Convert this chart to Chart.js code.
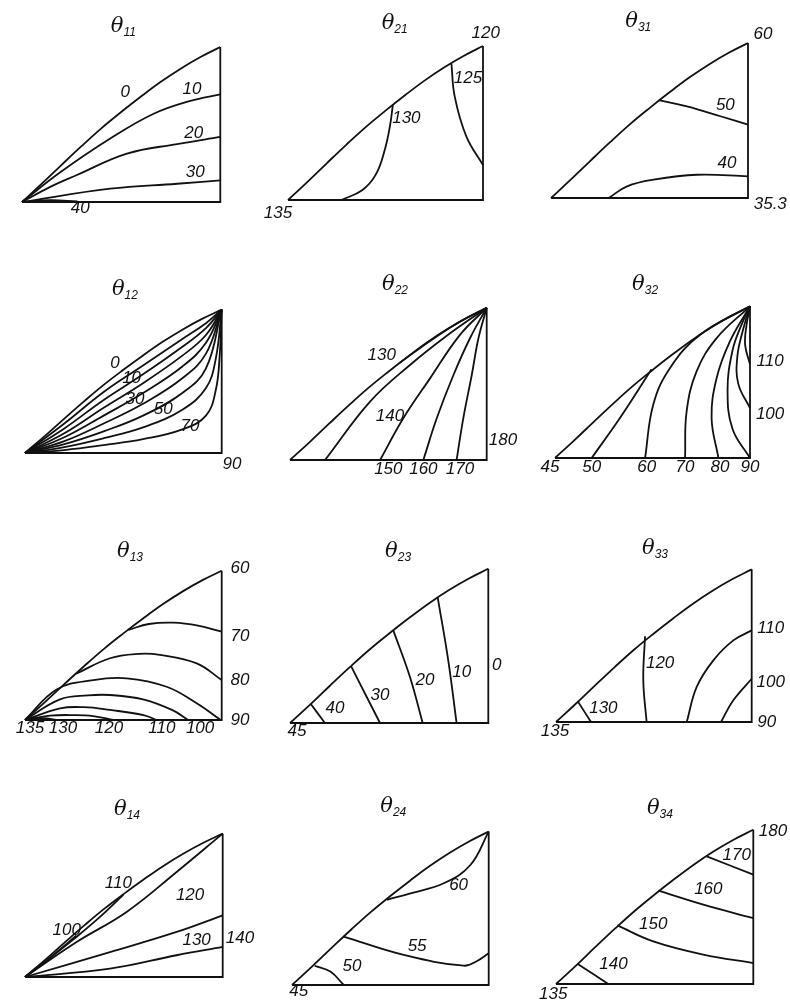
<!DOCTYPE html>
<html>
<head>
<meta charset="utf-8">
<script src="https://cdn.jsdelivr.net/npm/chart.js@4.4.1/dist/chart.umd.min.js"></script>
<style>
    body { margin: 0; background: #fff; }
    #page { position: relative; width: 790px; height: 1008px; overflow: hidden; }
    #page canvas { position: absolute; }
</style>
</head>
<body>
<div id="page"></div>
<script>
// Triangle frame: base runs x = 0..100, right edge is x = 100, y goes up in the same units.
// Hypotenuse shape, as fractions of the base (u) and of the panel height (v).
const HYP_U = [0, 0.1, 0.2, 0.3, 0.4, 0.5, 0.6, 0.7, 0.8, 0.9, 1];
const HYP_V = [0, 0.118, 0.24, 0.36, 0.475, 0.58, 0.68, 0.775, 0.86, 0.935, 1];

const PANEL_SUB = ['11', '21', '31', '12', '22', '32', '13', '23', '33', '14', '24', '34'];
const PANEL_HEIGHT = [78.2, 79, 78.7, 72.9, 77.4, 77.8, 75.9, 77.8, 78, 72.5, 78, 78.2];

// contour lines, one list of [x, y] per line
const LINES_11 = [
    [[0, 0], [19.3, 15], [44.5, 32], [66.4, 44.5], [84.9, 51], [100, 54.3]],
    [[0, 0], [14, 7.5], [27.7, 13.6], [52.9, 24.4], [78.2, 29.2], [100, 32.8]],
    [[0, 0], [44.5, 6.7], [78.2, 9.2], [100, 10.9]],
    [[0, 0], [14, 0.9], [28, 0.3]]
];
const LINES_21 = [
    [[27.4, 0], [38, 5], [45, 13], [49.6, 25.6], [52.3, 38], [53.8, 49]],
    [[83.8, 70], [85.5, 53], [91.5, 32.5], [100, 17.9]]
];
const LINES_31 = [
    [[54.7, 49.7], [69, 46.5], [86, 41.5], [100, 37.2]],
    [[29.3, 0], [38.6, 5.9], [52.1, 9.3], [74.1, 11.8], [100, 11]]
];
const LINES_12 = [
    [[0, 0], [20, 15], [40, 31], [60, 44.5], [80, 58], [92, 66], [100, 72.9]],
    [[0, 0], [20, 12.5], [40, 27], [60, 40], [80, 54], [92, 63.5], [100, 72.9]],
    [[0, 0], [20, 10], [40, 23], [60, 35.5], [80, 49.5], [92, 60], [100, 72.9]],
    [[0, 0], [20, 8], [40, 19], [60, 30.5], [80, 44], [92, 56], [100, 72.9]],
    [[0, 0], [20, 6], [40, 15], [60, 25], [80, 38], [92, 50.5], [100, 72.9]],
    [[0, 0], [20, 4.5], [40, 11], [60, 19], [80, 30.5], [92, 43], [100, 72.9]],
    [[0, 0], [20, 3], [40, 7.5], [60, 13], [80, 22], [92, 33], [97, 48], [100, 72.9]],
    [[0, 0], [20, 1.5], [40, 4], [60, 7], [80, 12], [92, 19], [97, 32], [99, 50], [100, 72.9]]
];
const LINES_22 = [
    [[55.9, 49.5], [71.2, 60.5], [84.7, 69.3], [100, 77.4]],
    [[17.8, 0], [40.7, 29.7], [61, 48.3], [81.4, 64.4], [100, 77.4]],
    [[45.8, 0], [57.6, 21.2], [71.2, 41.5], [86.4, 63.6], [100, 77.4]],
    [[67.8, 0], [74.6, 21.2], [83.1, 43.2], [91.5, 61.9], [100, 77.4]],
    [[84.7, 0], [88.1, 21.2], [92.4, 43.2], [95.8, 61.9], [100, 77.4]]
];
const LINES_32 = [
    [[18.8, 0], [33.3, 20.5], [49.5, 45.5]],
    [[46.2, 0], [50.4, 27.4], [59, 46.2], [74.4, 63.2], [100, 77.8]],
    [[66.7, 0], [67.5, 23.9], [72.6, 44.4], [82.9, 61.5], [100, 77.8]],
    [[83.8, 0], [80.3, 20.5], [82.9, 41], [89.7, 59.8], [100, 77.8]],
    [[100, 0], [91, 15], [88.5, 35], [91, 55], [95.5, 68], [100, 77.8]],
    [[100, 25.6], [94, 38], [93.5, 52], [96.5, 66], [100, 77.8]],
    [[100, 48], [97.5, 58], [98.2, 68], [100, 77.8]]
];
const LINES_13 = [
    [[52.5, 45.8], [63, 48.8], [75.4, 49.5], [88, 48], [100, 44.9]],
    [[26, 23.5], [43.2, 31.4], [58, 33.6], [68.6, 33.1], [87.3, 28.8], [100, 20.3]],
    [[0, 0], [16.1, 15.5], [34.7, 20.3], [51.7, 21.2], [72, 16.9], [87.3, 8.5], [99.5, 0]],
    [[0, 0], [17.8, 10.5], [32, 12.5], [43.2, 12.7], [60, 10.5], [75, 5], [83, 0]],
    [[0, 0], [17.8, 5.9], [30, 6.5], [43.2, 5.1], [60.2, 2.5], [67, 0]],
    [[0, 0], [12.7, 2.2], [25, 2.5], [34.7, 2], [45, 0]],
    [[0, 0], [9.3, 1], [16, 0]]
];
const LINES_23 = [
    [[10.4, 9.7], [17.6, 0]],
    [[30.8, 28.7], [38.7, 13.1], [45.4, 0]],
    [[52.1, 46.7], [60.5, 23.2], [66.9, 0]],
    [[74.5, 63.2], [79.8, 31.6], [84, 0]]
];
const LINES_33 = [
    [[11.1, 10.6], [17.9, 0]],
    [[45.5, 43.8], [44.6, 21.3], [46.3, 0]],
    [[66.8, 0], [71.9, 17.9], [80.4, 31.5], [90.6, 41.7], [100, 46.8]],
    [[84.3, 0], [90.6, 11.1], [100, 22.1]]
];
const LINES_14 = [
    [[0, 0], [8, 6], [16, 12.5], [26, 21]],
    [[0, 0], [12.5, 9.5], [25, 19.4], [37.5, 30], [49.7, 41.5]],
    [[0, 0], [26.1, 17.7], [51.4, 32.9], [76.7, 53.1], [100, 72.5]],
    [[0, 0], [43, 12.6], [76.7, 22.8], [100, 31.2]],
    [[0, 0], [43, 4.2], [76.7, 11], [100, 15.2]]
];
const LINES_24 = [
    [[11.5, 9.8], [19.5, 6.8], [26.3, 0]],
    [[26.3, 24.6], [56.8, 15.3], [87.3, 9.8], [94.1, 12.2], [100, 16.1]],
    [[48.3, 43.3], [60.2, 46.6], [77.1, 51.7], [90.7, 61], [100, 78]]
];
const LINES_34 = [
    [[10.8, 10.3], [26.5, 0]],
    [[31.1, 29.7], [49.3, 21.6], [74.7, 14.9], [100, 10.6]],
    [[51.9, 47.3], [74.7, 40.2], [100, 33.4]],
    [[76.4, 64.7], [100, 55.4]]
];
const PANEL_LINES = [LINES_11, LINES_21, LINES_31, LINES_12, LINES_22, LINES_32,
    LINES_13, LINES_23, LINES_33, LINES_14, LINES_24, LINES_34];

// contour values and where each value is written
const TEXT_11 = ['0', '10', '20', '30', '40'];
const AT_11 = [[52.1, 55.5], [85.7, 57], [86.6, 34.5], [87.4, 15.1], [29.4, -3.4]];
const TEXT_21 = ['120', '125', '130', '135'];
const AT_21 = [[101.4, 85.5], [92.3, 62.4], [60.7, 41.9], [-5.1, -6.8]];
const TEXT_31 = ['60', '50', '40', '35.3'];
const AT_31 = [[107.6, 82.9], [88.5, 46.9], [89.3, 17.8], [111.3, -3.4]];
const TEXT_12 = ['0', '10', '30', '50', '70', '90'];
const AT_12 = [[45.8, 45.8], [54.2, 38.1], [55.9, 27.1], [70.3, 22], [83.9, 13.6], [105.2, -5.9]];
const TEXT_22 = ['130', '140', '150', '160', '170', '180'];
const AT_22 = [[46.6, 53.4], [50.8, 22], [50, -4.5], [67.8, -4.5], [86.4, -4.5], [108.3, 10.2]];
const TEXT_32 = ['45', '50', '60', '70', '80', '90', '100', '110'];
const AT_32 = [[-2.6, -5], [18.8, -5], [47, -5], [66.7, -5], [84.6, -5], [100, -5], [110.3, 22.2], [110.3, 49.6]];
const TEXT_13 = ['60', '70', '80', '90', '135', '130', '120', '110', '100'];
const AT_13 = [[109.3, 77.1], [109.3, 42.4], [109.3, 20.3], [109.3, 0], [2.5, -4], [19.3, -4], [42.7, -4], [69.6, -4], [89, -4]];
const TEXT_23 = ['45', '40', '30', '20', '10', '0'];
const AT_23 = [[3.5, -4.3], [22.7, 7.2], [45.4, 13.9], [68.1, 21.5], [86.6, 25.7], [104.2, 29.1]];
const TEXT_33 = ['135', '130', '120', '110', '100', '90'];
const AT_33 = [[-0.5, -4.8], [24.2, 6.8], [53.2, 29.8], [109.7, 47.7], [109.7, 20.4], [107.7, 0]];
const TEXT_14 = ['100', '110', '120', '130', '140'];
const AT_14 = [[21.1, 23.6], [47.2, 47.2], [83.5, 41.3], [86.8, 18.5], [108.7, 19.4]];
const TEXT_24 = ['45', '50', '55', '60'];
const AT_24 = [[3.4, -3.4], [30.5, 9.3], [63.6, 19.5], [84.7, 50.8]];
const TEXT_34 = ['135', '140', '150', '160', '170', '180'];
const AT_34 = [[-1.4, -5.4], [29.1, 9.8], [49.3, 30.1], [77.2, 47.8], [91.6, 65.5], [110, 77.4]];
const PANEL_TEXT = [TEXT_11, TEXT_21, TEXT_31, TEXT_12, TEXT_22, TEXT_32, TEXT_13, TEXT_23, TEXT_33, TEXT_14, TEXT_24, TEXT_34];
const PANEL_AT = [AT_11, AT_21, AT_31, AT_12, AT_22, AT_32, AT_13, AT_23, AT_33, AT_14, AT_24, AT_34];

// title (θ with subscript) position in panel units
const TITLE_AT = [[51.1, 89.1], [54.7, 91.4], [44.3, 90.5], [50.8, 84.1], [53.4, 89.9], [46.2, 89.9],
    [53.4, 86.4], [54.5, 87.1], [50.6, 89.3], [51.6, 85.3], [51.5, 91.5], [52.7, 89.5]];

// page layout: left corner of each triangle and the base length in px
const CORNER_X = [21.7, 288.3, 550.7, 25, 290, 555, 25, 290, 556, 25, 291.7, 556];
const CORNER_Y = [201.7, 200, 198.3, 453.3, 460, 458.3, 720, 722.7, 721.7, 976.7, 985, 984.3];
const BASE_PX = [198.3, 195, 197, 196.7, 196.7, 195, 196.7, 198.3, 195.7, 197.7, 196.7, 197.3];

const CANVAS_W = 300, CANVAS_H = 240, PAD_LEFT = 45, PAD_TOP = 205;
const INK = '#111';

const panelText = {
    id: 'panelText',
    afterDatasetsDraw(chart, args, opts) {
        const ctx = chart.ctx;
        const sx = chart.scales.x, sy = chart.scales.y;
        ctx.save();
        ctx.fillStyle = INK;
        ctx.textAlign = 'center';
        ctx.textBaseline = 'middle';
        ctx.font = 'italic 17px "Liberation Sans", Arial, sans-serif';
        opts.text.forEach((t, i) => {
            ctx.fillText(t, sx.getPixelForValue(opts.at[i][0]), sy.getPixelForValue(opts.at[i][1]));
        });

        // θ with its index as a subscript
        const tx = sx.getPixelForValue(opts.titleAt[0]);
        const ty = sy.getPixelForValue(opts.titleAt[1]);
        const bigFont = 'italic 21px "DejaVu Serif", serif';
        const smallFont = 'italic 12px "Liberation Sans", sans-serif';
        ctx.font = bigFont;
        const w1 = ctx.measureText('θ').width;
        ctx.font = smallFont;
        const w2 = ctx.measureText(opts.sub).width;
        const x0 = tx - (w1 + w2) / 2;
        ctx.textAlign = 'left';
        ctx.textBaseline = 'alphabetic';
        ctx.font = bigFont;
        ctx.fillText('θ', x0, ty + 7);
        ctx.font = smallFont;
        ctx.fillText(opts.sub, x0 + w1, ty + 11);
        ctx.restore();
    }
};

function toPoints(list) {
    return list.map(p => ({ x: p[0], y: p[1] }));
}

function makePanel(i) {
    const page = document.getElementById('page');
    const canvas = document.createElement('canvas');
    canvas.width = CANVAS_W;
    canvas.height = CANVAS_H;
    canvas.style.left = (CORNER_X[i] - PAD_LEFT) + 'px';
    canvas.style.top = (CORNER_Y[i] - PAD_TOP) + 'px';
    page.appendChild(canvas);

    const s = BASE_PX[i] / 100;
    const h = PANEL_HEIGHT[i];
    const lineStyle = {
        showLine: true,
        pointRadius: 0,
        borderColor: INK,
        borderWidth: 1.8,
        fill: false
    };

    const datasets = [
        Object.assign({ data: toPoints([[0, 0], [100, 0], [100, h]]), tension: 0 }, lineStyle),
        Object.assign({ data: HYP_U.map((u, k) => ({ x: u * 100, y: HYP_V[k] * h })), tension: 0.4 }, lineStyle)
    ];
    PANEL_LINES[i].forEach(line => {
        datasets.push(Object.assign({ data: toPoints(line), tension: 0.4 }, lineStyle));
    });

    new Chart(canvas, {
        type: 'scatter',
        data: { datasets: datasets },
        options: {
            responsive: false,
            animation: false,
            events: [],
            layout: { padding: 0 },
            plugins: {
                legend: { display: false },
                tooltip: { enabled: false },
                panelText: {
                    text: PANEL_TEXT[i],
                    at: PANEL_AT[i],
                    sub: PANEL_SUB[i],
                    titleAt: TITLE_AT[i]
                }
            },
            scales: {
                x: { type: 'linear', display: false, min: -PAD_LEFT / s, max: (CANVAS_W - PAD_LEFT) / s },
                y: { type: 'linear', display: false, min: -(CANVAS_H - PAD_TOP) / s, max: PAD_TOP / s }
            }
        },
        plugins: [panelText]
    });
}

document.addEventListener('DOMContentLoaded', () => {
    for (let i = 0; i < PANEL_SUB.length; i++) makePanel(i);
});
</script>
</body>
</html>
